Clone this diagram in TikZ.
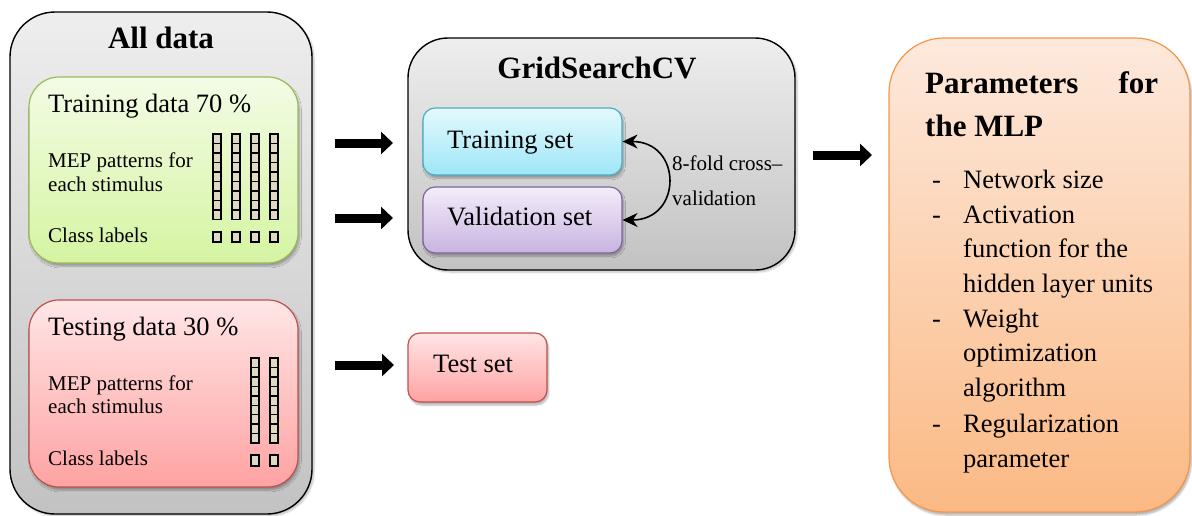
\documentclass[tikz,border=0pt]{standalone}
\usepackage{fontspec}
\setmainfont{Liberation Serif}
\usetikzlibrary{arrows.meta,shadows.blur}

\definecolor{greyTop}{HTML}{EEEEEE}
\definecolor{greyBot}{HTML}{C2C2C2}
\definecolor{greenTop}{HTML}{F3FCE6}
\definecolor{greenBot}{HTML}{D5F4A2}
\definecolor{greenEdge}{HTML}{9BBB59}
\definecolor{redTop}{HTML}{FFE6E6}
\definecolor{redBot}{HTML}{FFA2A2}
\definecolor{redEdge}{HTML}{C0504D}
\definecolor{cyanTop}{HTML}{E4F9FD}
\definecolor{cyanBot}{HTML}{9EE6F7}
\definecolor{cyanEdge}{HTML}{4BACC6}
\definecolor{lilacTop}{HTML}{F3EDF9}
\definecolor{lilacBot}{HTML}{C8B3E1}
\definecolor{lilacEdge}{HTML}{8064A2}
\definecolor{orangeTop}{HTML}{FDE9DC}
\definecolor{orangeBot}{HTML}{FBB984}
\definecolor{orangeEdge}{HTML}{F79646}
\definecolor{cellFill}{HTML}{DDD9C3}

\begin{document}
\begin{tikzpicture}[x=1pt,y=-1pt,
  container/.style={draw=black,line width=1.4pt,top color=greyTop,bottom color=greyBot,
    rounded corners=#1,inner sep=0pt,
    blur shadow={shadow xshift=2pt,shadow yshift=-2pt,shadow opacity=25,shadow blur steps=6}},
  panel/.style n args={3}{draw=#3,line width=1.2pt,top color=#1,bottom color=#2,inner sep=0pt,
    blur shadow={shadow xshift=1.5pt,shadow yshift=-3pt,shadow opacity=30,shadow blur steps=6}},
  title/.style={font=\fontsize{31}{36}\selectfont\bfseries,inner sep=0pt},
  big/.style={font=\fontsize{26.5}{34.8}\selectfont,inner sep=0pt,anchor=base west},
  small/.style={font=\fontsize{21}{24}\selectfont,inner sep=0pt,anchor=base west},
  cell/.style={draw=black,line width=1.4pt,fill=cellFill},
  blockarrow/.style={line width=9pt,-{Triangle[length=12pt,width=22pt]}},
  swap/.style={line width=1.6pt,{Stealth[length=15pt,width=14pt]}-{Stealth[length=15pt,width=14pt]}}
]
\useasboundingbox (0,0) rectangle (1192,515);

% ---------- left column: all data ----------
\node[container=45pt,minimum width=302,minimum height=502] (all) at (161,263) {};
\node[title,anchor=base] (allT) at (161,48) {All data};

\node[panel={greenTop}{greenBot}{greenEdge},rounded corners=30pt,minimum width=269,minimum height=186] (train) at (163.5,170) {};
\node[big] (trainT) at (48,112) {Training data 70 \%};
\node[small] (trainM1) at (48,167) {MEP patterns for};
\node[small] (trainM2) at (48,191) {each stimulus};
\node[small] (trainC) at (48,242) {Class labels};
\foreach \x in {213,232,251,270}{
  \foreach \i in {0,...,8}
    \draw[cell] (\x,134+\i*9.5) rectangle ++(8,9.5);
  \draw[cell] (\x,232) rectangle ++(8,10);
}

\node[panel={redTop}{redBot}{redEdge},rounded corners=30pt,minimum width=269,minimum height=187] (test) at (163.5,393.5) {};
\node[big] (testT) at (48,335) {Testing data 30 \%};
\node[small] (testM1) at (48,390) {MEP patterns for};
\node[small] (testM2) at (48,413) {each stimulus};
\node[small] (testC) at (48,465) {Class labels};
\foreach \x in {251,270}{
  \foreach \i in {0,...,8}
    \draw[cell] (\x,358+\i*9.45) rectangle ++(8,9.45);
  \draw[cell] (\x,455) rectangle ++(8,11);
}

% ---------- middle column: grid search ----------
\node[container=40pt,minimum width=387,minimum height=232] (grid) at (601.5,154) {};
\node[title,anchor=base] (gridT) at (597,78) {GridSearchCV};

\node[panel={cyanTop}{cyanBot}{cyanEdge},rounded corners=12pt,minimum width=199,minimum height=67] (ts) at (522.5,141.5) {};
\node[big] (tsT) at (447,148) {Training set};
\node[panel={lilacTop}{lilacBot}{lilacEdge},rounded corners=12pt,minimum width=199,minimum height=66] (vs) at (522.5,220) {};
\node[big] (vsT) at (447,225) {Validation set};

\draw[swap] (ts.east) to[out=0,in=0,distance=60pt] (vs.east);
\node[small] (cv1) at (672,170) {8-fold cross--};
\node[small] (cv2) at (672,205) {validation};

\node[panel={redTop}{redBot}{redEdge},rounded corners=12pt,minimum width=139,minimum height=69] (tset) at (477.5,367.5) {};
\node[big] (tsetT) at (433,372) {Test set};

% ---------- right column: MLP parameters ----------
\node[panel={orangeTop}{orangeBot}{orangeEdge},rounded corners=55pt,minimum width=301,minimum height=474] (par) at (1039.5,275) {};
\node[title,anchor=base west] (parT1) at (925,93) {\makebox[233pt][s]{Parameters\hfill for}};
\node[title,anchor=base west] (parT2) at (925,136) {the MLP};

\foreach \y/\t [count=\k] in {188/Network size,223/Activation,257/function for the,
    292/hidden layer units,327/Weight,361/optimization,396/algorithm,
    432/Regularization,467/parameter}
  \node[big] (p\k) at (963,\y) {\t};
\foreach \y [count=\k] in {188,223,327,432}
  \node[big] (d\k) at (932,\y) {-};

% ---------- flow arrows ----------
\coordinate (a1s) at (335,143); \coordinate (a1e) at (393,143);
\coordinate (a2s) at (335,218); \coordinate (a2e) at (393,218);
\coordinate (a3s) at (335,365); \coordinate (a3e) at (394,365);
\coordinate (a4s) at (813,155); \coordinate (a4e) at (872,155);
\draw[blockarrow] (a1s) -- (a1e);
\draw[blockarrow] (a2s) -- (a2e);
\draw[blockarrow] (a3s) -- (a3e);
\draw[blockarrow] (a4s) -- (a4e);
\end{tikzpicture}
\end{document}
